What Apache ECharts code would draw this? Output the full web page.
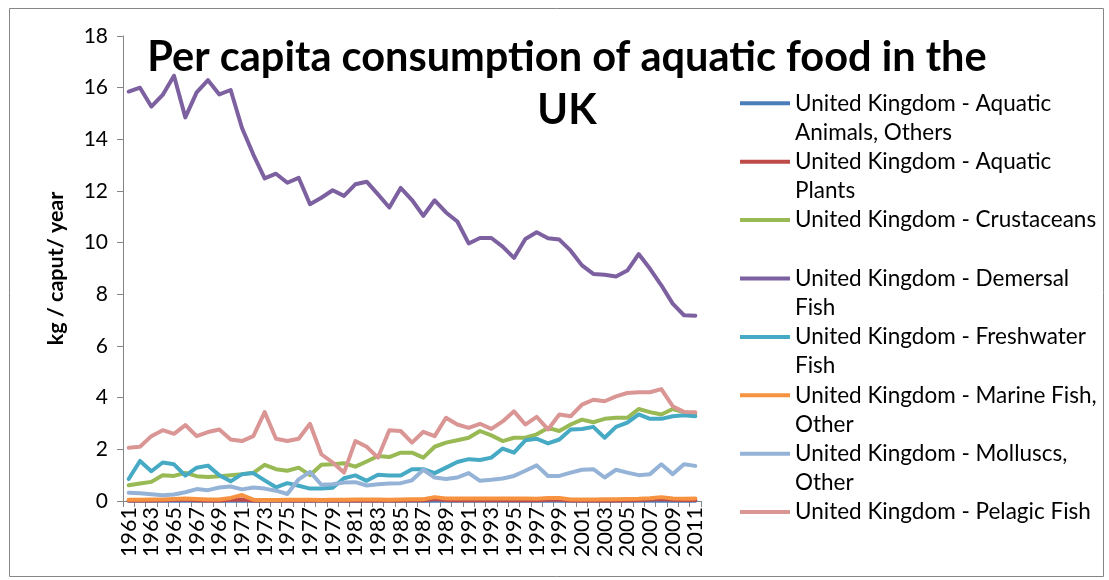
<!DOCTYPE html>
<html>
<head>
<meta charset="utf-8">
<script src="https://cdn.jsdelivr.net/npm/echarts@6/dist/echarts.min.js"></script>
<style>
html,body{margin:0;padding:0;background:#fff;}
#chart{width:1109px;height:580px;}
</style>
</head>
<body>
<div id="chart"></div>
<script>
var years = ['1961','1962','1963','1964','1965','1966','1967','1968','1969','1970',
  '1971','1972','1973','1974','1975','1976','1977','1978','1979','1980',
  '1981','1982','1983','1984','1985','1986','1987','1988','1989','1990',
  '1991','1992','1993','1994','1995','1996','1997','1998','1999','2000',
  '2001','2002','2003','2004','2005','2006','2007','2008','2009','2010','2011'];

var seriesNames = [
  'United Kingdom - Aquatic Animals, Others',
  'United Kingdom - Aquatic Plants',
  'United Kingdom - Crustaceans',
  'United Kingdom - Demersal Fish',
  'United Kingdom - Freshwater Fish',
  'United Kingdom - Marine Fish, Other',
  'United Kingdom - Molluscs, Other',
  'United Kingdom - Pelagic Fish'
];

var legendLabels = [
  'United Kingdom - Aquatic\nAnimals, Others',
  'United Kingdom - Aquatic\nPlants',
  'United Kingdom - Crustaceans\n ',
  'United Kingdom - Demersal\nFish',
  'United Kingdom - Freshwater\nFish',
  'United Kingdom - Marine Fish,\nOther',
  'United Kingdom - Molluscs,\nOther',
  'United Kingdom - Pelagic Fish\n '
];

var aquaticAnimals = [0.01,0.01,0.01,0.01,0.01,0.01,0.01,0.01,0.01,0.01,
  0.01,0.01,0.01,0.01,0.01,0.01,0.01,0.01,0.01,0.01,
  0.01,0.01,0.01,0.01,0.01,0.01,0.01,0.01,0.01,0.01,
  0.01,0.01,0.01,0.01,0.01,0.01,0.01,0.01,0.01,0.01,
  0.01,0.01,0.01,0.01,0.01,0.01,0.01,0.01,0.01,0.01,0.01];

var aquaticPlants = [0.02,0.02,0.02,0.03,0.05,0.06,0.03,0.02,0.02,0.05,
  0.06,0.02,0.02,0.02,0.02,0.02,0.02,0.02,0.02,0.02,
  0.02,0.02,0.02,0.02,0.02,0.03,0.03,0.08,0.04,0.03,
  0.03,0.03,0.03,0.03,0.03,0.03,0.03,0.05,0.05,0.02,
  0.02,0.02,0.02,0.02,0.03,0.04,0.06,0.08,0.05,0.04,0.04];

var crustaceans = [0.61,0.68,0.74,1.00,0.97,1.09,0.96,0.93,0.96,1.00,
  1.04,1.09,1.40,1.23,1.17,1.29,1.00,1.40,1.42,1.46,
  1.33,1.53,1.74,1.70,1.87,1.87,1.68,2.10,2.26,2.35,
  2.45,2.71,2.54,2.32,2.45,2.45,2.58,2.83,2.71,2.96,
  3.15,3.05,3.18,3.22,3.22,3.56,3.44,3.35,3.56,3.44,3.38];

var demersal = [15.85,16.00,15.27,15.72,16.46,14.85,15.82,16.29,15.74,15.91,
  14.44,13.41,12.49,12.67,12.32,12.51,11.49,11.74,12.03,11.81,
  12.26,12.36,11.87,11.36,12.12,11.65,11.04,11.64,11.17,10.82,
  9.97,10.18,10.18,9.85,9.41,10.14,10.40,10.17,10.12,9.69,
  9.12,8.79,8.76,8.69,8.92,9.56,8.99,8.35,7.64,7.19,7.17];

var freshwater = [0.85,1.55,1.15,1.49,1.42,0.98,1.29,1.37,1.00,0.76,
  1.04,1.08,0.80,0.53,0.69,0.59,0.48,0.48,0.51,0.88,
  0.99,0.78,1.02,0.99,0.99,1.23,1.23,1.08,1.29,1.51,
  1.62,1.59,1.68,2.03,1.87,2.35,2.41,2.23,2.38,2.77,
  2.79,2.87,2.45,2.87,3.03,3.35,3.18,3.18,3.28,3.32,3.28];

var marineOther = [0.05,0.05,0.06,0.06,0.08,0.10,0.08,0.06,0.06,0.12,
  0.23,0.05,0.04,0.04,0.05,0.05,0.05,0.04,0.05,0.05,
  0.06,0.06,0.06,0.05,0.06,0.07,0.07,0.15,0.10,0.10,
  0.10,0.10,0.10,0.10,0.10,0.10,0.09,0.12,0.12,0.06,
  0.06,0.06,0.07,0.07,0.08,0.09,0.11,0.15,0.10,0.09,0.10];

var molluscs = [0.32,0.30,0.26,0.22,0.25,0.34,0.46,0.42,0.52,0.56,
  0.45,0.52,0.48,0.40,0.27,0.84,1.13,0.63,0.65,0.72,
  0.73,0.60,0.65,0.68,0.69,0.80,1.21,0.91,0.85,0.91,
  1.08,0.78,0.82,0.87,0.97,1.17,1.38,0.97,0.97,1.10,
  1.21,1.23,0.91,1.21,1.10,1.00,1.04,1.42,1.04,1.42,1.36];

var pelagic = [2.06,2.10,2.51,2.74,2.60,2.94,2.51,2.67,2.77,2.38,
  2.32,2.51,3.44,2.41,2.32,2.41,2.99,1.81,1.49,1.10,
  2.32,2.10,1.68,2.74,2.71,2.26,2.68,2.51,3.22,2.96,
  2.83,2.99,2.79,3.08,3.47,2.96,3.26,2.77,3.35,3.28,
  3.73,3.92,3.86,4.05,4.18,4.21,4.21,4.33,3.67,3.45,3.44];

var yTicks = [0,2,4,6,8,10,12,14,16,18];

var seriesData = [aquaticAnimals, aquaticPlants, crustaceans, demersal, freshwater, marineOther, molluscs, pelagic];
var colors = ['#4A7EBB','#BE4B48','#98B954','#7D60A0','#46AAC5','#F69240','#95B3D7','#D99694'];

var labelMap = {};
seriesNames.forEach(function(n,i){ labelMap[n] = '\n' + legendLabels[i]; });

var FONT = 'Lato, "Open Sans", sans-serif';

var chart = echarts.init(document.getElementById('chart'), null, {renderer:'canvas'});
chart.setOption({
  animation: false,
  backgroundColor: '#ffffff',
  color: colors,
  title: {
    text: 'Per capita consumption of aquatic food in the\nUK',
    left: 562,
    top: 26,
    textAlign: 'center',
    textStyle: {fontFamily: FONT, fontWeight: 'bold', fontSize: 41.5, lineHeight: 53, color: '#000'}
  },
  graphic: [{
    type: 'rect', left: 7, top: 6, silent: true,
    shape: {width: 1094, height: 568},
    style: {fill: 'none', stroke: '#868686', lineWidth: 1}
  }],
  legend: {
    orient: 'vertical',
    left: 740,
    top: 59.5,
    padding: 0,
    itemGap: -29.2,
    itemWidth: 50,
    itemHeight: 4,
    icon: 'rect',
    formatter: function(n){ return labelMap[n]; },
    textStyle: {fontFamily: FONT, fontSize: 22.5, lineHeight: 29.2, color: '#000'},
    data: seriesNames
  },
  grid: {left: 123, right: 408, top: 36, bottom: 79, containLabel: false},
  xAxis: {
    type: 'category',
    data: years,
    boundaryGap: true,
    axisLine: {lineStyle: {color: '#868686', width: 1}},
    axisTick: {show: true, interval: 0, length: 6, lineStyle: {color: '#868686'}},
    axisLabel: {interval: 1, rotate: 90, margin: 6, fontFamily: FONT, fontSize: 21.5, color: '#000'},
    splitLine: {show: false}
  },
  yAxis: {
    type: 'value',
    min: 0, max: 18, interval: 2,
    name: 'kg / caput/ year',
    nameLocation: 'middle',
    nameGap: 56,
    nameRotate: 90,
    nameTextStyle: {fontFamily: FONT, fontWeight: 'bold', fontSize: 21.5, color: '#000'},
    axisLine: {show: true, lineStyle: {color: '#868686', width: 1}},
    axisTick: {show: true, length: 6, lineStyle: {color: '#868686'}},
    axisLabel: {fontFamily: FONT, fontSize: 21, color: '#000', margin: 15,
      formatter: function(v){ return yTicks.indexOf(v) >= 0 ? String(v) : ''; }},
    splitLine: {show: false}
  },
  series: seriesNames.map(function(n,i){
    return {
      name: n, type: 'line', data: seriesData[i],
      symbol: 'none', showSymbol: false,
      lineStyle: {width: 4, color: colors[i], cap: 'round', join: 'round'},
      itemStyle: {color: colors[i]},
      emphasis: {disabled: true}
    };
  })
});
</script>
</body>
</html>
